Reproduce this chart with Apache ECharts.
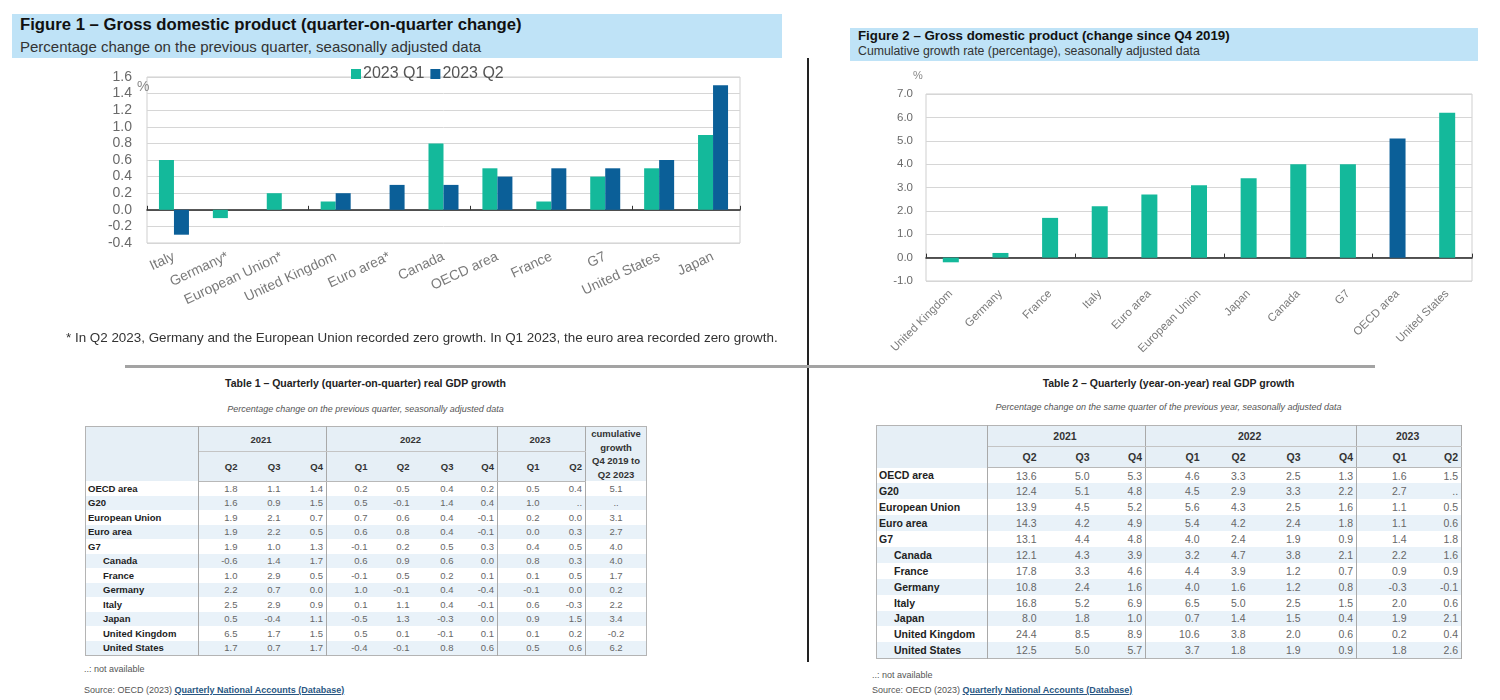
<!DOCTYPE html>
<html><head><meta charset="utf-8">
<script src="https://cdn.jsdelivr.net/npm/echarts@6.0.0/dist/echarts.min.js"></script>
<style>
html,body{margin:0;padding:0;background:#fff;}
body{width:1500px;height:700px;position:relative;overflow:hidden;font-family:"Liberation Sans",Arial,sans-serif;color:#222;}
.abs{position:absolute;}
.hdr{position:absolute;background:#bfe3f7;}
.hdr .t{position:absolute;font-weight:bold;white-space:nowrap;color:#111;}
.hdr .s{position:absolute;white-space:nowrap;color:#333;}
.tt{position:absolute;text-align:center;font-weight:bold;font-size:10.5px;color:#222;font-family:"Liberation Sans Narrow","Liberation Sans",sans-serif;}
.ts{position:absolute;text-align:center;font-style:italic;font-size:9px;color:#555;font-family:"Liberation Sans Narrow","Liberation Sans",sans-serif;}
table.tbl{position:absolute;border-collapse:collapse;table-layout:fixed;font-family:"Liberation Sans Narrow","Liberation Sans",sans-serif;border:1.5px solid #b4b4b4;}
table.tbl td{padding:0 3px 0 0;white-space:nowrap;overflow:hidden;text-align:right;color:#666;}
table.tbl td.nm{text-align:left;font-weight:bold;color:#222;padding-left:2px;}
table.tbl td.ind{padding-left:17px;}
table.tbl tr.h td{background:#e6eff6;font-weight:bold;color:#333;}
table.tbl td.yr{text-align:center;border-bottom:1px solid #c4c4c4;}
table.tbl td.gs{border-right:1px solid #a9a9a9;}
table.tbl tr.h2 td{border-bottom:1px solid #b8b8b8;}
table.tbl tr.st td{background:#e9f2f9;}
table.tbl td.cum{text-align:center;padding:0;}
.note{position:absolute;font-size:9px;color:#555;font-family:"Liberation Sans Narrow","Liberation Sans",sans-serif;white-space:nowrap;}
.note a{color:#2a5783;text-decoration:underline;font-weight:bold;}
</style>
</head><body>

<div class="hdr" style="left:12px;top:14px;width:770px;height:44px;">
  <div class="t" style="left:8px;top:1px;font-size:16.7px;line-height:20px;">Figure 1 – Gross domestic product (quarter-on-quarter change)</div>
  <div class="s" style="left:8px;top:24px;font-size:15px;line-height:18px;">Percentage change on the previous quarter, seasonally adjusted data</div>
</div>
<div class="hdr" style="left:850px;top:28px;width:628px;height:33px;">
  <div class="t" style="left:8px;top:0px;font-size:13.3px;line-height:16px;">Figure 2 – Gross domestic product (change since Q4 2019)</div>
  <div class="s" style="left:8px;top:16px;font-size:12.3px;line-height:15px;">Cumulative growth rate (percentage), seasonally adjusted data</div>
</div>

<div id="c1" class="abs" style="left:0;top:0;width:800px;height:330px;"></div>
<div id="c2" class="abs" style="left:820px;top:60px;width:680px;height:305px;"></div>

<div class="abs" style="left:66px;top:329px;font-size:13.4px;line-height:18px;color:#333;white-space:nowrap;">* In Q2 2023, Germany and the European Union recorded zero growth. In Q1 2023, the euro area recorded zero growth.</div>

<div class="abs" style="left:807px;top:58px;width:2px;height:604px;background:#222;"></div>
<div class="abs" style="left:125px;top:365px;width:1250px;height:3px;background:#a3a3a3;"></div>

<div class="tt" style="left:85px;top:377px;width:561px;">Table 1 – Quarterly (quarter-on-quarter) real GDP growth</div>
<div class="ts" style="left:85px;top:404px;width:561px;">Percentage change on the previous quarter, seasonally adjusted data</div>
<div id="t1"></div>
<div class="note" style="left:84px;top:664px;">..: not available</div>
<div class="note" style="left:84px;top:685px;">Source: OECD (2023) <a>Quarterly National Accounts (Database)</a></div>

<div class="tt" style="left:876px;top:377px;width:585px;">Table 2 – Quarterly (year-on-year) real GDP growth</div>
<div class="ts" style="left:876px;top:402px;width:585px;">Percentage change on the same quarter of the previous year, seasonally adjusted data</div>
<div id="t2"></div>
<div class="note" style="left:872px;top:670px;">..: not available</div>
<div class="note" style="left:872px;top:685px;">Source: OECD (2023) <a>Quarterly National Accounts (Database)</a></div>

<script>
// ---------- Figure 1 data ----------
const fig1Categories = ['Italy','Germany*','European Union*','United Kingdom','Euro area*','Canada','OECD area','France','G7','United States','Japan'];
const fig1SeriesNames = ['2023 Q1','2023 Q2'];
const fig1Q1 = [0.6,-0.1,0.2,0.1,0.0,0.8,0.5,0.1,0.4,0.5,0.9];
const fig1Q2 = [-0.3,0.0,0.0,0.2,0.3,0.3,0.4,0.5,0.5,0.6,1.5];

// ---------- Figure 2 data ----------
const fig2Categories = ['United Kingdom','Germany','France','Italy','Euro area','European Union','Japan','Canada','G7','OECD area','United States'];
const fig2Values = [-0.2,0.2,1.7,2.2,2.7,3.1,3.4,4.0,4.0,5.1,6.2];
const fig2Highlight = 'OECD area';

// ---------- Table data ----------
const tableRowNames = ['OECD area','G20','European Union','Euro area','G7','Canada','France','Germany','Italy','Japan','United Kingdom','United States'];
const tableRowIndented = [false,false,false,false,false,true,true,true,true,true,true,true];
const tableYears = ['2021','2022','2023'];
const tableQuarters = [['Q2','Q3','Q4'],['Q1','Q2','Q3','Q4'],['Q1','Q2']];
const table1Values = [
 [1.8,1.1,1.4,0.2,0.5,0.4,0.2,0.5,0.4,5.1],
 [1.6,0.9,1.5,0.5,-0.1,1.4,0.4,1.0,null,null],
 [1.9,2.1,0.7,0.7,0.6,0.4,-0.1,0.2,0.0,3.1],
 [1.9,2.2,0.5,0.6,0.8,0.4,-0.1,0.0,0.3,2.7],
 [1.9,1.0,1.3,-0.1,0.2,0.5,0.3,0.4,0.5,4.0],
 [-0.6,1.4,1.7,0.6,0.9,0.6,0.0,0.8,0.3,4.0],
 [1.0,2.9,0.5,-0.1,0.5,0.2,0.1,0.1,0.5,1.7],
 [2.2,0.7,0.0,1.0,-0.1,0.4,-0.4,-0.1,0.0,0.2],
 [2.5,2.9,0.9,0.1,1.1,0.4,-0.1,0.6,-0.3,2.2],
 [0.5,-0.4,1.1,-0.5,1.3,-0.3,0.0,0.9,1.5,3.4],
 [6.5,1.7,1.5,0.5,0.1,-0.1,0.1,0.1,0.2,-0.2],
 [1.7,0.7,1.7,-0.4,-0.1,0.8,0.6,0.5,0.6,6.2]
];
const table2Values = [
 [13.6,5.0,5.3,4.6,3.3,2.5,1.3,1.6,1.5],
 [12.4,5.1,4.8,4.5,2.9,3.3,2.2,2.7,null],
 [13.9,4.5,5.2,5.6,4.3,2.5,1.6,1.1,0.5],
 [14.3,4.2,4.9,5.4,4.2,2.4,1.8,1.1,0.6],
 [13.1,4.4,4.8,4.0,2.4,1.9,0.9,1.4,1.8],
 [12.1,4.3,3.9,3.2,4.7,3.8,2.1,2.2,1.6],
 [17.8,3.3,4.6,4.4,3.9,1.2,0.7,0.9,0.9],
 [10.8,2.4,1.6,4.0,1.6,1.2,0.8,-0.3,-0.1],
 [16.8,5.2,6.9,6.5,5.0,2.5,1.5,2.0,0.6],
 [8.0,1.8,1.0,0.7,1.4,1.5,0.4,1.9,2.1],
 [24.4,8.5,8.9,10.6,3.8,2.0,0.6,0.2,0.4],
 [12.5,5.0,5.7,3.7,1.8,1.9,0.9,1.8,2.6]
];

const TEAL = '#14b99b';
const BLUE = '#0b5f98';
const FONT = '"Liberation Sans Narrow","Liberation Sans",Arial,sans-serif';

// ---------- Figure 1 ----------
const c1 = echarts.init(document.getElementById('c1'), null, {renderer:'canvas'});
c1.setOption({
  animation:false,
  textStyle:{fontFamily:FONT},
  legend:{data:fig1SeriesNames, left:346, top:61, icon:'rect', itemWidth:10, itemHeight:10, itemGap:6,
    textStyle:{fontSize:16, color:'#555', fontFamily:FONT, padding:[0,0,0,-3]}},
  grid:{left:147, top:77, width:593, height:166, show:true, borderColor:'#cfcfcf', borderWidth:1, containLabel:false},
  graphic:[{type:'text', left:137, top:80, style:{text:'%', fontSize:14, fill:'#888', fontFamily:FONT}}],
  xAxis:[
    {type:'category', data:fig1Categories, position:'bottom',
      axisLine:{show:false, onZero:false}, axisTick:{show:false},
      axisLabel:{interval:0, rotate:25, fontSize:14, color:'#7a7a7a', margin:13, fontFamily:FONT}},
    {type:'category', data:fig1Categories, position:'bottom',
      axisLine:{show:true, onZero:true, lineStyle:{color:'#222', width:1.5}},
      axisTick:{show:true, inside:true, length:4, lineStyle:{color:'#333'}},
      axisLabel:{show:false}}
  ],
  yAxis:{type:'value', min:-0.4, max:1.6, interval:0.2,
    axisLine:{show:false}, axisTick:{show:false},
    axisLabel:{formatter:v=>v.toFixed(1), fontSize:14, color:'#6a6a6a', margin:15, fontFamily:FONT},
    splitLine:{lineStyle:{color:'#d6d6d6', width:1}}},
  series:[
    {name:fig1SeriesNames[0], type:'bar', xAxisIndex:0, data:fig1Q1, barWidth:15, barGap:'0%', itemStyle:{color:TEAL}},
    {name:fig1SeriesNames[1], type:'bar', xAxisIndex:0, data:fig1Q2, barWidth:15, barGap:'0%', itemStyle:{color:BLUE}}
  ]
});

// ---------- Figure 2 ----------
const c2 = echarts.init(document.getElementById('c2'), null, {renderer:'canvas'});
c2.setOption({
  animation:false,
  textStyle:{fontFamily:FONT},
  grid:{left:106, top:34, width:546, height:187, show:true, borderColor:'#cfcfcf', borderWidth:1},
  graphic:[{type:'text', left:93, top:10, style:{text:'%', fontSize:11, fill:'#888', fontFamily:FONT}}],
  xAxis:[
    {type:'category', data:fig2Categories, position:'bottom',
      axisLine:{show:false, onZero:false}, axisTick:{show:false},
      axisLabel:{interval:0, rotate:45, fontSize:11.5, color:'#7a7a7a', margin:11, fontFamily:FONT}},
    {type:'category', data:fig2Categories, position:'bottom',
      axisLine:{show:true, onZero:true, lineStyle:{color:'#222', width:1.5}},
      axisTick:{show:true, inside:true, length:4, lineStyle:{color:'#333'}},
      axisLabel:{show:false}}
  ],
  yAxis:{type:'value', min:-1, max:7, interval:1,
    axisLine:{show:false}, axisTick:{show:false},
    axisLabel:{formatter:v=>v.toFixed(1), fontSize:11.5, color:'#6a6a6a', margin:13, fontFamily:FONT},
    splitLine:{lineStyle:{color:'#d6d6d6', width:1}}},
  series:[
    {type:'bar', xAxisIndex:0, data:fig2Values, barWidth:16,
      itemStyle:{color:p=>p.name===fig2Highlight?BLUE:TEAL}}
  ]
});

// ---------- Tables ----------
function fmt(v){ return v===null ? '..' : v.toFixed(1); }
function buildTable(cfg){
  const groupEnds = []; let acc=0;
  tableQuarters.forEach(g=>{acc+=g.length; groupEnds.push(acc-1);});
  let h = '<table class="tbl" style="left:'+cfg.left+'px;top:'+cfg.top+'px;width:'+cfg.widths.reduce((a,b)=>a+b,0)+'px;font-size:'+cfg.fs+'px;"><colgroup>';
  cfg.widths.forEach(w=>h+='<col style="width:'+w+'px">');
  h+='</colgroup>';
  h+='<tr class="h" style="height:'+cfg.h1+'px"><td class="nm gs" rowspan="2"></td>';
  tableYears.forEach((y,i)=>{ h+='<td class="yr gs" colspan="'+tableQuarters[i].length+'">'+y+'</td>'; });
  if(cfg.cum) h+='<td class="cum" rowspan="2" style="line-height:13.5px;">cumulative<br>growth<br>Q4 2019 to<br>Q2 2023</td>';
  h+='</tr>';
  h+='<tr class="h h2" style="height:'+cfg.h2+'px">';
  tableQuarters.forEach(g=>g.forEach((q,j)=>{ h+='<td'+(j===g.length-1?' class="gs"':'')+'>'+q+'</td>'; }));
  h+='</tr>';
  tableRowNames.forEach((n,r)=>{
    h+='<tr'+(r%2===1?' class="st"':'')+' style="height:'+cfg.rh+'px"><td class="nm gs'+(tableRowIndented[r]?' ind':'')+'">'+n+'</td>';
    cfg.values[r].forEach((v,c)=>{
      if(cfg.cum && c===cfg.values[r].length-1){ h+='<td class="cum">'+fmt(v)+'</td>'; }
      else h+='<td'+(groupEnds.indexOf(c)>=0?' class="gs"':'')+'>'+fmt(v)+'</td>';
    });
    h+='</tr>';
  });
  h+='</table>';
  document.getElementById(cfg.id).innerHTML = h;
}
buildTable({id:'t1', left:85, top:426, widths:[113,42,43,43,44,42,44,41,45,43,61], fs:9.5, h1:25, h2:29, rh:14.5, values:table1Values, cum:true});
buildTable({id:'t2', left:876, top:425, widths:[111,52,53,53,57,46,55,53,53,52], fs:10.5, h1:21, h2:21, rh:15.9, values:table2Values, cum:false});
</script>
</body></html>
